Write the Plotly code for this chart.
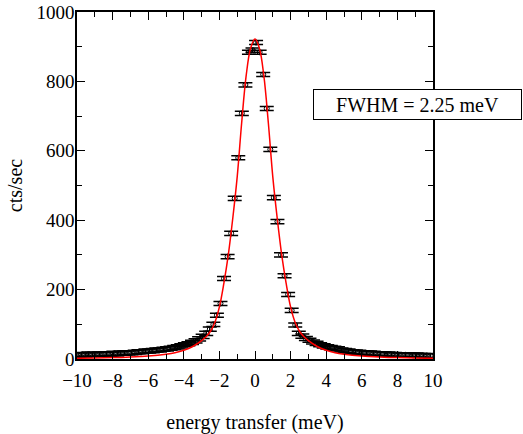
import plotly.graph_objects as go

# measured data points (energy transfer in meV, counts/sec)
x_data = [-9.94, -9.74, -9.54, -9.34, -9.14, -8.94, -8.74, -8.54, -8.34, -8.14,
          -7.94, -7.74, -7.54, -7.34, -7.14, -6.94, -6.74, -6.54, -6.34, -6.14,
          -5.94, -5.74, -5.54, -5.34, -5.14, -4.94, -4.74, -4.54, -4.34, -4.14,
          -3.94, -3.74, -3.54, -3.34, -3.14, -2.94, -2.74, -2.54, -2.34, -2.14,
          -1.94, -1.74, -1.54, -1.34, -1.14, -0.94, -0.74, -0.54, -0.34, -0.14,
          0.06, 0.26, 0.46, 0.66, 0.86, 1.06, 1.26, 1.46, 1.66, 1.86,
          2.06, 2.26, 2.46, 2.66, 2.86, 3.06, 3.26, 3.46, 3.66, 3.86,
          4.06, 4.26, 4.46, 4.66, 4.86, 5.06, 5.26, 5.46, 5.66, 5.86,
          6.06, 6.26, 6.46, 6.66, 6.86, 7.06, 7.26, 7.46, 7.66, 7.86,
          8.06, 8.26, 8.46, 8.66, 8.86, 9.06, 9.26, 9.46, 9.66, 9.86]
y_data = [12, 13, 12, 14, 13, 13, 14, 14, 15, 14,
          16, 15, 17, 17, 18, 18, 19, 21, 21, 23,
          23, 24, 26, 26, 28, 29, 31, 33, 35, 38,
          41, 44, 48, 52, 58, 65, 74, 86, 100, 126,
          160, 232, 295, 362, 463, 580, 708, 790, 884, 890,
          912, 884, 820, 722, 604, 465, 396, 300, 240, 186,
          140, 98, 74, 66, 59, 54, 49, 45, 41, 38,
          35, 33, 31, 29, 26, 24, 23, 21, 20, 19,
          18, 17, 17, 16, 15, 15, 14, 14, 13, 13,
          12, 12, 12, 11, 11, 11, 10, 10, 10, 9]
y_err = 6

# fitted curve
x_fit = [-10, -9, -8, -7, -6, -5, -4.5, -4, -3.5, -3, -2.75, -2.5, -2.25, -2,
         -1.75, -1.5, -1.25, -1, -0.75, -0.5, -0.25, 0, 0.25, 0.5, 0.75, 1,
         1.25, 1.5, 1.75, 2, 2.25, 2.5, 2.75, 3, 3.5, 4, 4.5, 5, 6, 7, 8, 9, 10]
y_fit = [2, 3, 4, 6, 9, 14, 18, 25, 36, 53, 64, 80, 106, 150,
         218, 300, 405, 525, 680, 815, 895, 922, 895, 815, 680, 525,
         405, 300, 218, 150, 106, 80, 64, 53, 36, 25, 18, 14, 9, 6, 4, 3, 2]

x_ticks = [-10, -8, -6, -4, -2, 0, 2, 4, 6, 8, 10]
y_ticks = [0, 200, 400, 600, 800, 1000]
label_text = "FWHM = 2.25 meV"

FONT = "Times New Roman, Liberation Serif, DejaVu Serif, serif"

fig = go.Figure()
fig.add_trace(go.Scatter(
    x=x_data, y=y_data, mode="markers",
    marker=dict(symbol="circle-open", size=5, color="black", line=dict(width=1, color="black")),
    error_y=dict(type="constant", value=y_err, color="black", thickness=1.5, width=7),
    showlegend=False))
fig.add_trace(go.Scatter(
    x=x_fit, y=y_fit, mode="lines", line=dict(color="#ff0000", width=1.5, shape="spline"),
    showlegend=False))

axis_common = dict(showline=True, linecolor="black", linewidth=1.5, mirror="ticks",
                   ticks="inside", ticklen=8, tickwidth=1.2, tickcolor="black",
                   showgrid=False, zeroline=False, automargin=False,
                   tickfont=dict(family=FONT, size=19, color="black"))

fig.update_xaxes(range=[-10, 10], tickvals=x_ticks, ticklabelstandoff=3,
                 minor=dict(dtick=1, ticks="inside", ticklen=5, tickcolor="black", tickwidth=1.2),
                 title=dict(text="energy transfer (meV)", font=dict(family=FONT, size=20, color="black"), standoff=25),
                 **axis_common)
fig.update_yaxes(range=[0, 1000], tickvals=y_ticks, ticklabelstandoff=-3,
                 minor=dict(dtick=100, ticks="inside", ticklen=5, tickcolor="black", tickwidth=1.2),
                 title=dict(text="cts/sec", font=dict(family=FONT, size=20, color="black"), standoff=8),
                 **axis_common)

fig.add_annotation(xref="paper", yref="paper", x=0.956, y=0.733, text=label_text,
                   showarrow=False, font=dict(family=FONT, size=20, color="black"),
                   bgcolor="white", bordercolor="black", borderwidth=1, borderpad=3,
                   width=201, height=23, xanchor="center", yanchor="middle")

fig.update_layout(width=523, height=434, margin=dict(l=77, r=90, t=12, b=75),
                  font=dict(family=FONT),
                  plot_bgcolor="white", paper_bgcolor="white")

fig.write_html("out.html", config={"displayModeBar": False},
               post_script="document.body.style.margin='0';")
